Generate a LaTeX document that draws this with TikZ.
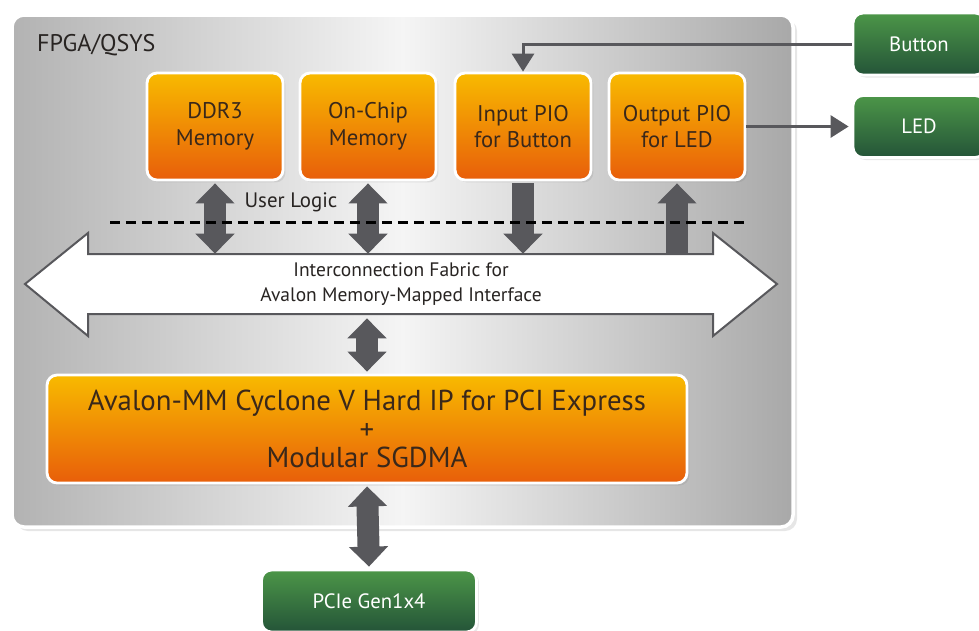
\documentclass[tikz,border=0pt]{standalone}
\usepackage{fontspec}
\setmainfont{PT Sans}
\usetikzlibrary{arrows.meta,positioning,shadows}
\definecolor{orangetop}{RGB}{248,186,0}
\definecolor{orangebot}{RGB}{232,94,10}
\definecolor{greentop}{RGB}{76,150,72}
\definecolor{greenbot}{RGB}{36,84,56}
\definecolor{arrowgray}{RGB}{88,88,92}
\definecolor{labelink}{RGB}{40,36,34}
\definecolor{boxink}{RGB}{58,40,26}

\begin{document}
\begin{tikzpicture}[x=0.02cm,y=-0.02cm,
    blockbox/.style={rounded corners=0.2cm,draw=white,line width=1.6pt,
      top color=orangetop,bottom color=orangebot,text=boxink,align=center,
      drop shadow={shadow xshift=0.05cm,shadow yshift=-0.05cm,opacity=0.18}},
    piobox/.style={blockbox,minimum width=2.72cm,minimum height=2.14cm,
      font=\fontsize{12.9}{15.3}\selectfont},
    iobox/.style={rounded corners=0.2cm,draw=white,line width=1.6pt,
      top color=greentop,bottom color=greenbot,text=white,minimum height=1.24cm,
      font=\fontsize{11.8}{14}\selectfont,
      drop shadow={shadow xshift=0.05cm,shadow yshift=-0.05cm,opacity=0.18}},
    fatboth/.style={draw=arrowgray,line width=0.44cm,
      {Triangle[width=0.76cm,length=0.4cm]}-{Triangle[width=0.76cm,length=0.4cm]}},
    fatone/.style={draw=arrowgray,line width=0.44cm,-{Triangle[width=0.76cm,length=0.4cm]}},
    wire/.style={draw=arrowgray,line width=0.06cm,-{Triangle[width=0.44cm,length=0.36cm]}}]
  \useasboundingbox (0,0) rectangle (979,630);
  % FPGA/QSYS frame
  \draw[rounded corners=0.24cm,draw=white,line width=2pt,
    left color=black!30,right color=black!34,middle color=black!4,
    drop shadow={shadow xshift=0.08cm,shadow yshift=-0.08cm,opacity=0.2}]
    (12,15) rectangle (793,527);
  \node[anchor=west,text=labelink,font=\fontsize{13.7}{15}\selectfont] (fpga) at (31,45) {FPGA/QSYS};
  % interconnect bus
  \draw[fill=white,draw=arrowgray,line width=0.04cm]
    (25,284) -- (88,233) -- (88,254) -- (713,254) -- (713,233) -- (777,284)
    -- (713,336) -- (713,314) -- (88,314) -- (88,336) -- cycle;
  \node[minimum width=12cm,minimum height=1.2cm,align=center,text=labelink,
    font=\fontsize{11.1}{14.2}\selectfont] (bus) at (401,284)
    {Interconnection Fabric for\\Avalon Memory-Mapped Interface};
  % peripheral blocks
  \node[piobox] (ddr) at (215,126.5) {DDR3\\Memory};
  \node[piobox] (onchip) at (368,126.5) {On-Chip\\Memory};
  \node[piobox] (inpio) at (523,126.5) {Input PIO\\for Button};
  \node[piobox] (outpio) at (677,126.5) {Output PIO\\for LED};
  \node[blockbox,minimum width=12.8cm,minimum height=2.16cm,
    font=\fontsize{16.4}{16.2}\selectfont] (avalon) at (367,429)
    {Avalon-MM Cyclone V Hard IP for PCI Express\\+\\Modular SGDMA};
  % board side
  \node[iobox,minimum width=2.64cm] (btn) at (919,44) {Button};
  \node[iobox,minimum width=2.64cm] (led) at (919,126.5) {LED};
  \node[iobox,minimum width=4.3cm] (pcie) at (369,601) {PCIe Gen1x4};
  % data paths
  \draw[fatboth] ([yshift=-0.04cm]ddr.south) -- (ddr.south |- bus.north);
  \draw[fatboth] ([yshift=-0.04cm]onchip.south) -- (onchip.south |- bus.north);
  \draw[fatone] ([yshift=-0.04cm]inpio.south) -- (inpio.south |- bus.north);
  \draw[fatone] (outpio.south |- bus.north) -- ([yshift=-0.04cm]outpio.south);
  \draw[fatboth] ([yshift=-0.08cm]avalon.north |- bus.south) -- ([yshift=0.04cm]avalon.north);
  \draw[fatboth] ([yshift=-0.04cm]avalon.south) -- ([yshift=0.04cm]pcie.north);
  \draw[wire] (btn.west) -| (inpio.north);
  \draw[wire] (outpio.east) -- ([xshift=-0.06cm]led.west);
  % user logic boundary
  \coordinate (ulleft) at (110,222);
  \coordinate (ulright) at (745,222);
  \draw[line width=0.06cm,dash pattern=on 0.2cm off 0.12cm] (ulleft) -- (ulright);
  \node[text=labelink,font=\fontsize{11.9}{13}\selectfont] (ulogic) at (291,202) {User Logic};
\end{tikzpicture}
\end{document}
